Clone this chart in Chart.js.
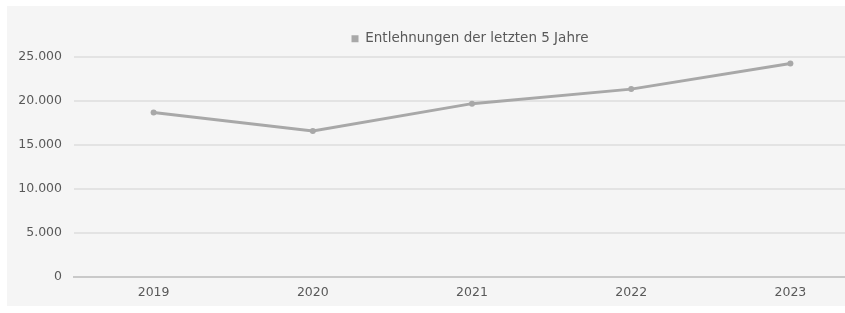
<!DOCTYPE html>
<html>
<head>
<meta charset="utf-8">
<script src="https://cdn.jsdelivr.net/npm/chart.js@4.4.1/dist/chart.umd.min.js"></script>
<style>
  html, body { margin: 0; padding: 0; background: #ffffff; overflow: hidden; width: 845px; height: 313px; }
  #wrap { position: absolute; left: 7px; top: 6px; width: 926px; height: 300px; background: #f5f5f5; }
</style>
</head>
<body>
<div id="wrap"><canvas id="c" width="926" height="300"></canvas></div>
<script>
const categories = ['2019', '2020', '2021', '2022', '2023'];
const seriesName = 'Entlehnungen der letzten 5 Jahre';
const seriesValues = [18700, 16600, 19700, 21350, 24250];
const yTicks = [0, 5000, 10000, 15000, 20000, 25000];

const fontFamily = '"DejaVu Sans", sans-serif';
const textColor = '#595959';

function fmt(v) {
  return String(v).replace(/\B(?=(\d{3})+(?!\d))/g, '.');
}

const legendHeightFix = {
  id: 'legendHeightFix',
  beforeLayout(chart) {
    const lg = chart.legend;
    if (lg && !lg._patched) {
      const f = lg.fit;
      lg.fit = function () { f.call(this); this.height = 40; };
      lg._patched = true;
    }
  }
};

new Chart(document.getElementById('c'), {
  type: 'line',
  data: {
    labels: categories,
    datasets: [{
      label: seriesName,
      data: seriesValues,
      borderColor: '#a8a8a8',
      backgroundColor: '#a8a8a8',
      borderWidth: 3,
      pointRadius: 3,
      pointBackgroundColor: '#a8a8a8',
      pointBorderWidth: 0,
      tension: 0,
      yAxisID: 'y'
    }]
  },
  plugins: [legendHeightFix],
  options: {
    responsive: false,
    animation: false,
    devicePixelRatio: 1,
    layout: { padding: { top: 11, right: 0, bottom: 0, left: 0 } },
    plugins: {
      legend: {
        display: true,
        position: 'top',
        labels: {
          usePointStyle: true,
          pointStyle: 'rect',
          boxWidth: 7,
          boxHeight: 7,
          padding: 15,
          color: textColor,
          font: { family: fontFamily, size: 13.5 }
        }
      },
      tooltip: { enabled: false }
    },
    scales: {
      x: {
        offset: true,
        grid: { display: false, drawTicks: false },
        border: { display: true, color: '#c9c9c9', width: 2 },
        ticks: { padding: 8, color: textColor, font: { family: fontFamily, size: 12.5 } },
        afterFit: (s) => { s.height = 29; }
      },
      y: {
        min: 0,
        max: 25000,
        afterBuildTicks: (s) => { s.ticks = yTicks.map(v => ({ value: v })); },
        grid: { color: '#e3e3e3', lineWidth: 2, drawTicks: false },
        border: { display: false },
        ticks: {
          padding: 12,
          color: textColor,
          font: { family: fontFamily, size: 12.5 },
          callback: (v) => fmt(v)
        },
        afterFit: (s) => { s.width = 67; }
      },
      yRight: {
        position: 'right',
        display: true,
        min: 0,
        max: 25000,
        grid: { display: false, drawTicks: false },
        border: { display: false },
        ticks: { display: false },
        afterFit: (s) => { s.width = 63; }
      }
    }
  }
});
</script>
</body>
</html>
